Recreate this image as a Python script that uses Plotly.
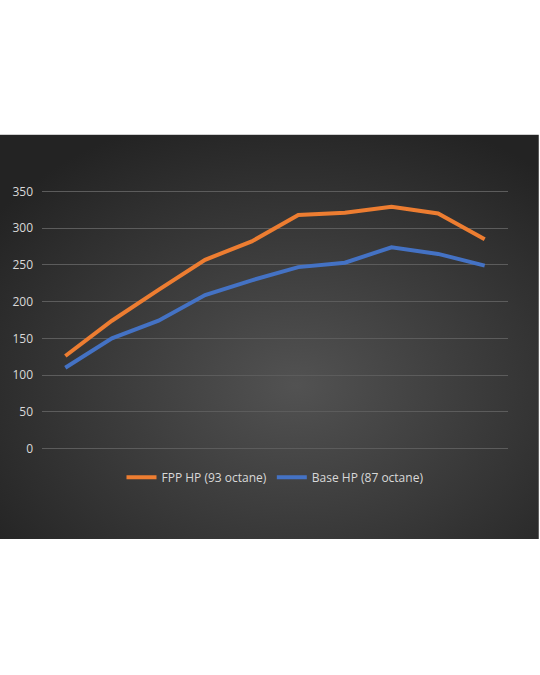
import plotly.graph_objects as go
import base64

categories = ["1", "2", "3", "4", "5", "6", "7", "8", "9", "10"]
fpp_hp = [126, 174, 216, 257, 282, 318, 321, 329, 320, 285]
base_hp = [110, 150, 174, 209, 229, 247, 253, 274, 265, 249]
y_ticks = [0, 50, 100, 150, 200, 250, 300, 350]

W, H = 540, 675
L, R, T, B = 40, 32, 189.5, 225.2
pw = W - L - R
ph = H - T - B

svg = (
    "<svg xmlns='http://www.w3.org/2000/svg' width='540' height='405' viewBox='0 0 540 405' preserveAspectRatio='none'>"
    "<defs><radialGradient id='g' cx='55%' cy='62%' r='70%'>"
    "<stop offset='0' stop-color='#525252'/><stop offset='1' stop-color='#232323'/>"
    "</radialGradient></defs><rect width='540' height='405' fill='url(#g)'/></svg>"
)
uri = "data:image/svg+xml;base64," + base64.b64encode(svg.encode()).decode()

fig = go.Figure()
fig.add_trace(go.Scatter(x=categories, y=fpp_hp, mode="lines", name="FPP HP (93 octane)",
                         line=dict(color="#ED7D31", width=4)))
fig.add_trace(go.Scatter(x=categories, y=base_hp, mode="lines", name="Base HP (87 octane)",
                         line=dict(color="#4472C4", width=4)))

panel_top, panel_bot, panel_left, panel_right = 134, 539, -3, 539
fig.add_layout_image(dict(
    source=uri, xref="paper", yref="paper",
    x=(panel_left - L) / pw, y=(H - B - panel_top) / ph,
    sizex=(panel_right - panel_left) / pw, sizey=(panel_bot - panel_top) / ph,
    sizing="stretch", xanchor="left", yanchor="top", layer="below",
))

fig.update_layout(
    width=W, height=H,
    margin=dict(l=L, r=R, t=T, b=B),
    paper_bgcolor="white",
    plot_bgcolor="rgba(0,0,0,0)",
    font=dict(family="Open Sans, sans-serif", size=12, color="#d9d9d9"),
    showlegend=True,
    legend=dict(orientation="h", x=0.5, xanchor="center", y=-(477 - (H - B)) / ph, yanchor="middle",
                bgcolor="rgba(0,0,0,0)", font=dict(size=12, color="#d9d9d9"),
                itemwidth=30, tracegroupgap=0),
    xaxis=dict(type="category", range=[-0.5, 9.5], showgrid=False, showticklabels=False,
               zeroline=False, showline=False, ticks=""),
    yaxis=dict(range=[-2, 352], tickvals=y_ticks, showgrid=True, gridcolor="#5c5c5c", gridwidth=1,
               zeroline=False, showline=False, ticks="", ticklabelstandoff=8,
               tickfont=dict(size=12, color="#d9d9d9")),
)

fig.write_html("out.html")
